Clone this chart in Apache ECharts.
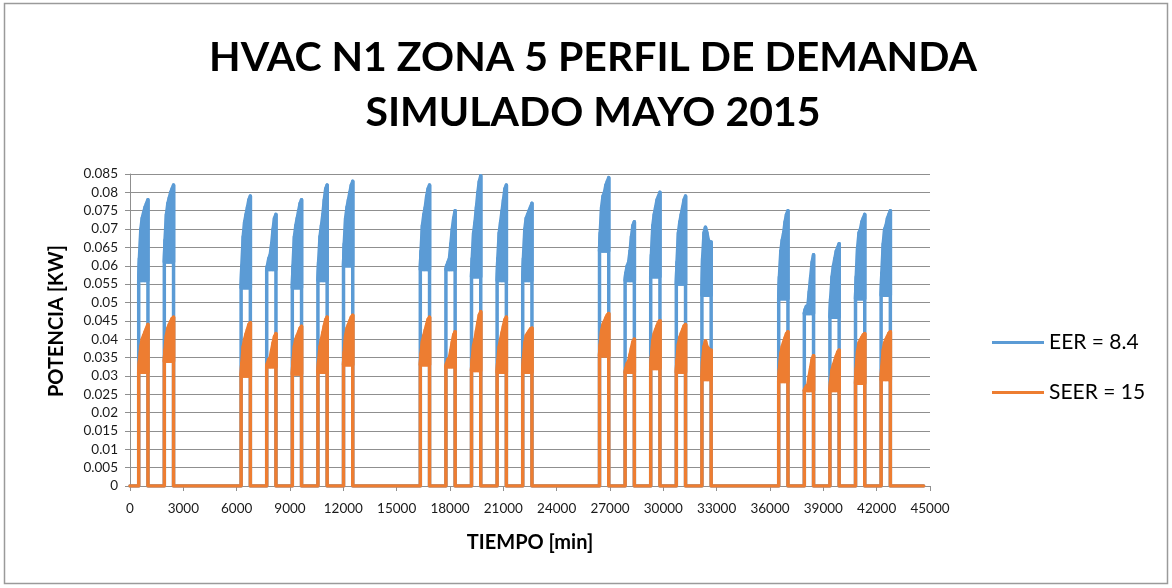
<!DOCTYPE html>
<html>
<head>
<meta charset="utf-8">
<script src="https://cdn.jsdelivr.net/npm/echarts@6/dist/echarts.min.js"></script>
<style>
  html, body { margin: 0; padding: 0; background: #fff; }
  #chart { width: 1172px; height: 588px; }
</style>
</head>
<body>
<div id="chart"></div>
<script>
// Simulated demand profile, May 2015, one-minute time base
const DAY = 1440;           // minutes per day
const ON_MIN = 490;         // unit switches on (minute of day)
const OFF_MIN = 1010;       // unit switches off (minute of day)
const END_MIN = 44640;      // 31 days

// Days of the month (0-based) with the unit running
const activeDays = [0, 1, 4, 5, 6, 7, 8, 11, 12, 13, 14, 15, 18, 19, 20, 21, 22, 25, 26, 27, 28, 29];

// EER = 8.4 : trough level of the cycling band, and successive cycle peaks per day
const eerLow = [0.056, 0.061, 0.054, 0.059, 0.054, 0.056, 0.060, 0.059, 0.059, 0.057, 0.056,
                0.056, 0.064, 0.056, 0.057, 0.055, 0.052, 0.051, 0.047, 0.046, 0.051, 0.052];
const eerPeaks = [
  [0.062, 0.070, 0.073, 0.0745, 0.076, 0.077, 0.078],
  [0.067, 0.074, 0.077, 0.0785, 0.080, 0.081, 0.082],
  [0.060, 0.068, 0.072, 0.074, 0.076, 0.078, 0.079],
  [0.060, 0.062, 0.063, 0.066, 0.070, 0.073, 0.074],
  [0.060, 0.068, 0.071, 0.073, 0.075, 0.077, 0.078],
  [0.061, 0.068, 0.071, 0.074, 0.078, 0.081, 0.082],
  [0.066, 0.073, 0.076, 0.078, 0.080, 0.082, 0.083],
  [0.064, 0.071, 0.074, 0.076, 0.079, 0.081, 0.082],
  [0.060, 0.061, 0.062, 0.066, 0.070, 0.073, 0.075],
  [0.062, 0.069, 0.072, 0.076, 0.080, 0.083, 0.0845],
  [0.062, 0.069, 0.072, 0.075, 0.078, 0.081, 0.082],
  [0.062, 0.070, 0.073, 0.074, 0.075, 0.076, 0.077],
  [0.069, 0.076, 0.079, 0.080, 0.082, 0.083, 0.084],
  [0.058, 0.060, 0.061, 0.064, 0.068, 0.071, 0.072],
  [0.063, 0.071, 0.074, 0.076, 0.078, 0.079, 0.080],
  [0.061, 0.069, 0.072, 0.074, 0.076, 0.078, 0.079],
  [0.062, 0.069, 0.0705, 0.069, 0.067, 0.0665, 0.0665],
  [0.057, 0.064, 0.067, 0.069, 0.072, 0.074, 0.075],
  [0.048, 0.049, 0.049, 0.053, 0.057, 0.061, 0.063],
  [0.051, 0.057, 0.060, 0.062, 0.064, 0.065, 0.066],
  [0.057, 0.065, 0.069, 0.070, 0.072, 0.073, 0.074],
  [0.058, 0.066, 0.070, 0.071, 0.073, 0.074, 0.075]
];

// SEER = 15 : trough level of the cycling band, and successive cycle peaks per day
const seerLow = [0.031, 0.034, 0.030, 0.0325, 0.0305, 0.031, 0.033, 0.033, 0.0325, 0.0315, 0.031,
                 0.031, 0.0355, 0.031, 0.032, 0.031, 0.029, 0.0285, 0.026, 0.026, 0.028, 0.029];
const seerPeaks = [
  [0.034, 0.038, 0.040, 0.041, 0.042, 0.043, 0.044],
  [0.037, 0.041, 0.043, 0.044, 0.0448, 0.0456, 0.046],
  [0.0335, 0.038, 0.040, 0.0414, 0.0427, 0.044, 0.0445],
  [0.0334, 0.0345, 0.035, 0.037, 0.039, 0.0407, 0.0415],
  [0.034, 0.0381, 0.040, 0.041, 0.042, 0.043, 0.0435],
  [0.034, 0.038, 0.040, 0.0418, 0.0436, 0.0453, 0.046],
  [0.0365, 0.041, 0.043, 0.044, 0.045, 0.046, 0.0465],
  [0.036, 0.0394, 0.041, 0.0425, 0.044, 0.0454, 0.046],
  [0.0334, 0.0345, 0.035, 0.037, 0.0392, 0.0412, 0.042],
  [0.0345, 0.0383, 0.040, 0.0423, 0.0445, 0.0466, 0.0475],
  [0.034, 0.038, 0.040, 0.0418, 0.0436, 0.0453, 0.046],
  [0.0345, 0.039, 0.041, 0.0416, 0.0422, 0.0428, 0.043],
  [0.0385, 0.0423, 0.044, 0.0449, 0.0458, 0.0466, 0.047],
  [0.032, 0.0334, 0.034, 0.0358, 0.0376, 0.0393, 0.040],
  [0.0353, 0.0396, 0.0415, 0.0426, 0.0436, 0.0446, 0.045],
  [0.0343, 0.0386, 0.0405, 0.0416, 0.0426, 0.0436, 0.044],
  [0.034, 0.038, 0.0395, 0.038, 0.0375, 0.037, 0.037],
  [0.0318, 0.0361, 0.038, 0.0392, 0.0404, 0.0415, 0.042],
  [0.0265, 0.0272, 0.0275, 0.030, 0.0323, 0.0345, 0.0355],
  [0.0285, 0.0316, 0.033, 0.0342, 0.0354, 0.0365, 0.037],
  [0.032, 0.0368, 0.039, 0.0398, 0.0405, 0.0412, 0.0415],
  [0.0325, 0.037, 0.039, 0.040, 0.0408, 0.0416, 0.042]
];

const seriesNames = ['EER = 8.4', 'SEER = 15'];
const seriesColors = ['#5B9BD5', '#ED7D31'];
const xTicks = { min: 0, max: 45000, step: 3000 };
const yTicks = { min: 0, max: 0.085, step: 0.005 };

// Turn the per-day cycling data into [minute, kW] points:
// off -> switch on -> alternating troughs and peaks -> switch off
function buildProfile(low, peaks) {
  const pts = [[0, 0]];
  activeDays.forEach((d, k) => {
    const t0 = d * DAY + ON_MIN;
    const t1 = d * DAY + OFF_MIN;
    const n = peaks[k].length;
    const step = (t1 - t0) / (n - 0.5);
    pts.push([t0, 0], [t0, low[k]]);
    peaks[k].forEach((p, i) => {
      pts.push([t0 + (i + 0.5) * step, p]);
      if (i < n - 1) pts.push([t0 + (i + 1) * step, low[k]]);
    });
    pts.push([t1, 0]);
  });
  pts.push([END_MIN, 0]);
  return pts;
}

const FONT = 'Lato, "Open Sans", "DejaVu Sans", sans-serif';
const AXIS_GREY = '#8f8f8f';
const LINE_W = 3.5;

// The compressor cycles far faster than one pixel, so the running hours
// show as a solid band between the trough level and the cycle peaks.
function cyclingBand(low, peaks, color, z) {
  return {
    type: 'custom',
    silent: true,
    z: z,
    data: activeDays.map((d, k) => [d * DAY + ON_MIN, d * DAY + OFF_MIN, k]),
    encode: { x: [0, 1] },
    renderItem: (params, api) => {
      const t0 = api.value(0), t1 = api.value(1), k = api.value(2);
      const n = peaks[k].length;
      const step = (t1 - t0) / (n - 0.5);
      const pts = [api.coord([t0, low[k]])];
      peaks[k].forEach((p, i) => pts.push(api.coord([t0 + (i + 0.5) * step, p])));
      pts.push(api.coord([t1, low[k]]));
      return {
        type: 'polygon',
        shape: { points: pts },
        style: { fill: color, stroke: color, lineWidth: LINE_W, lineJoin: 'round' }
      };
    }
  };
}

function profileLine(idx, low, peaks, z) {
  return {
    name: seriesNames[idx],
    type: 'line',
    data: buildProfile(low, peaks),
    showSymbol: false,
    symbol: 'none',
    z: z,
    lineStyle: { width: LINE_W, color: seriesColors[idx], join: 'round', cap: 'round' },
    itemStyle: { color: seriesColors[idx] }
  };
}

const chart = echarts.init(document.getElementById('chart'), null, { renderer: 'canvas' });

chart.setOption({
  animation: false,
  backgroundColor: '#ffffff',
  color: seriesColors,
  grid: { left: 130, right: 242, top: 174, bottom: 102, containLabel: false },
  legend: {
    data: seriesNames,
    orient: 'vertical',
    left: 992,
    top: 332,
    padding: 0,
    itemGap: 29,
    itemWidth: 52,
    itemHeight: 3,
    icon: 'rect',
    textStyle: { fontFamily: FONT, fontSize: 21, color: '#000' }
  },
  xAxis: {
    type: 'value',
    min: xTicks.min,
    max: xTicks.max,
    interval: xTicks.step,
    axisLine: { show: true, lineStyle: { color: AXIS_GREY, width: 1 } },
    axisTick: { show: true, length: 5, lineStyle: { color: AXIS_GREY } },
    splitLine: { show: false },
    axisLabel: {
      fontFamily: FONT, fontSize: 13.5, color: '#1a1a1a', margin: 16,
      formatter: v => String(v)
    }
  },
  yAxis: {
    type: 'value',
    min: yTicks.min,
    max: yTicks.max,
    interval: yTicks.step,
    axisLine: { show: true, lineStyle: { color: AXIS_GREY, width: 1 } },
    axisTick: { show: true, length: 5, lineStyle: { color: AXIS_GREY } },
    splitLine: { show: true, lineStyle: { color: AXIS_GREY, width: 1 } },
    axisLabel: {
      fontFamily: FONT, fontSize: 13.5, color: '#1a1a1a', margin: 12,
      formatter: v => String(Number(v.toFixed(3)))
    }
  },
  series: [
    profileLine(0, eerLow, eerPeaks, 2),
    cyclingBand(eerLow, eerPeaks, seriesColors[0], 2),
    profileLine(1, seerLow, seerPeaks, 3),
    cyclingBand(seerLow, seerPeaks, seriesColors[1], 3)
  ],
  graphic: [
    {
      type: 'rect',
      silent: true,
      shape: { x: 4.5, y: 3.5, width: 1163, height: 580 },
      style: { fill: 'none', stroke: '#9a9a9a', lineWidth: 1.5 }
    },
    {
      type: 'text', silent: true, x: 593, y: 58,
      style: { text: 'HVAC N1 ZONA 5 PERFIL DE DEMANDA', font: 'bold 41px ' + FONT,
               fill: '#000', align: 'center', verticalAlign: 'middle' }
    },
    {
      type: 'text', silent: true, x: 593, y: 113,
      style: { text: 'SIMULADO MAYO 2015', font: 'bold 41px ' + FONT,
               fill: '#000', align: 'center', verticalAlign: 'middle' }
    },
    {
      type: 'text', silent: true, x: 530, y: 543,
      style: { text: 'TIEMPO [min]', font: 'bold 20px ' + FONT,
               fill: '#000', align: 'center', verticalAlign: 'middle' }
    },
    {
      type: 'text', silent: true, x: 57, y: 321, rotation: Math.PI / 2,
      style: { text: 'POTENCIA [KW]', font: 'bold 20px ' + FONT,
               fill: '#000', align: 'center', verticalAlign: 'middle' }
    }
  ]
});
</script>
</body>
</html>
